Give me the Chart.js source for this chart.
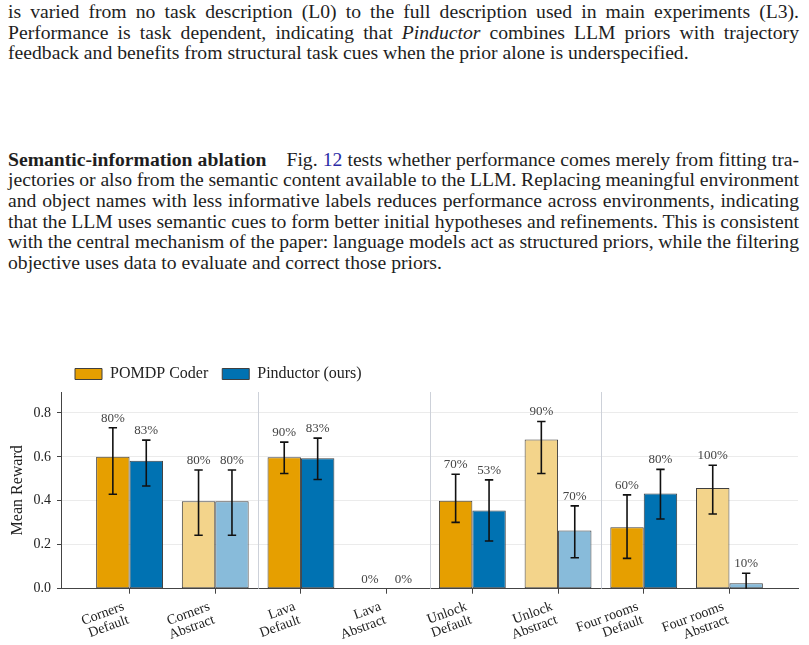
<!DOCTYPE html>
<html><head><meta charset="utf-8">
<script src="https://cdn.jsdelivr.net/npm/chart.js@4.4.1/dist/chart.umd.min.js"></script>
<style>
html,body{margin:0;padding:0;background:#fff;width:809px;height:645px;overflow:hidden;}
.para{position:absolute;left:8px;width:791px;font-family:"Liberation Serif","Times New Roman",serif;color:#1e1e1e;line-height:20.7px;font-size:17.5px;}
.line{white-space:nowrap;height:20.7px;}
.t{white-space:nowrap;}
.ref{color:#2b2ba6;}
.quad{display:inline-block;width:20px;}
#p1{top:1px}
#p2{top:148.6px}
#wrap{position:absolute;left:0;top:352px;width:809px;height:293px;}
</style></head>
<body>
<div class="para" id="p1">
<div class="line j"><span class="t">is varied from no task description (L0) to the full description used in main experiments (L3).</span></div>
<div class="line j"><span class="t">Performance is task dependent, indicating that <i>Pinductor</i> combines LLM priors with trajectory</span></div>
<div class="line last"><span class="t" id="measure">feedback and benefits from structural task cues when the prior alone is underspecified.</span></div>
</div>
<div class="para" id="p2">
<div class="line j"><span class="t"><b>Semantic-information ablation</b><span class="quad"></span>Fig. <span class="ref">12</span> tests whether performance comes merely from fitting tra-</span></div>
<div class="line j"><span class="t">jectories or also from the semantic content available to the LLM. Replacing meaningful environment</span></div>
<div class="line j"><span class="t">and object names with less informative labels reduces performance across environments, indicating</span></div>
<div class="line j"><span class="t">that the LLM uses semantic cues to form better initial hypotheses and refinements. This is consistent</span></div>
<div class="line j"><span class="t">with the central mechanism of the paper: language models act as structured priors, while the filtering</span></div>
<div class="line last"><span class="t">objective uses data to evaluate and correct those priors.</span></div>
</div>
<div id="wrap"><canvas id="c" width="809" height="293"></canvas></div>
<script>
// ---- text layout: fit font so the last line of paragraph 1 matches, then justify lines ----
(function(){
  const m = document.getElementById('measure');
  const target = 681;
  const w = m.getBoundingClientRect().width;
  const fs = 17.5 * target / w;
  document.querySelectorAll('.para').forEach(p => p.style.fontSize = fs + 'px');
  const W = 791;
  document.querySelectorAll('.line.j .t').forEach(s => {
    const nat = s.getBoundingClientRect().width;
    const n = (s.textContent.match(/ /g) || []).length;
    if (n) s.style.wordSpacing = ((W - nat) / n) + 'px';
  });
})();

// ---- data ----
const categories = [
  ['Corners','Default'], ['Corners','Abstract'],
  ['Lava','Default'], ['Lava','Abstract'],
  ['Unlock','Default'], ['Unlock','Abstract'],
  ['Four rooms','Default'], ['Four rooms','Abstract']
];
const seriesNames = ['POMDP Coder', 'Pinductor (ours)'];

const pomdpMean = [0.600, 0.398, 0.598, 0.000, 0.400, 0.679, 0.280, 0.458];
const pomdpLow  = [0.430, 0.243, 0.524, 0.000, 0.302, 0.524, 0.138, 0.340];
const pomdpHigh = [0.732, 0.540, 0.667, 0.000, 0.521, 0.761, 0.427, 0.562];
const pomdpSuccess = [80, 80, 90, 0, 70, 90, 60, 100];

const pindMean = [0.582, 0.398, 0.594, 0.000, 0.356, 0.265, 0.433, 0.025];
const pindLow  = [0.467, 0.243, 0.497, 0.000, 0.217, 0.141, 0.317, -0.020];
const pindHigh = [0.676, 0.540, 0.685, 0.000, 0.495, 0.377, 0.543, 0.070];
const pindSuccess = [83, 80, 83, 0, 53, 70, 80, 10];

const yTicks = [0.0, 0.2, 0.4, 0.6, 0.8];

// ---- styles ----
const F = '"Liberation Serif","Times New Roman",serif';
const baseColors  = ['#E69F00', '#0072B2'];
const lightColors = ['#F3D48B', '#88BBDA'];
const edge = '#3f3f3f';

function colorsFor(k){ return categories.map(c => c[1] === 'Abstract' ? lightColors[k] : baseColors[k]); }

const extras = [
  {low: pomdpLow, high: pomdpHigh, success: pomdpSuccess},
  {low: pindLow, high: pindHigh, success: pindSuccess}
];

const groupLines = {
  id: 'groupLines',
  beforeDatasetsDraw(chart){
    const {ctx, chartArea: a, scales: {x}} = chart;
    ctx.save();
    ctx.strokeStyle = '#cdd1d9';
    ctx.lineWidth = 1;
    for (let i = 1; i < categories.length - 1; i += 2) {
      const px = Math.round(x.getPixelForValue(i + 0.5)) + 0.5;
      ctx.beginPath(); ctx.moveTo(px, a.top); ctx.lineTo(px, a.bottom); ctx.stroke();
    }
    ctx.restore();
  }
};

const errorBars = {
  id: 'errorBars',
  afterDatasetsDraw(chart){
    const {ctx, chartArea: a, scales: {y}} = chart;
    ctx.save();
    ctx.save();
    ctx.beginPath(); ctx.rect(a.left, a.top, a.right - a.left, a.bottom - a.top); ctx.clip();
    ctx.strokeStyle = '#111'; ctx.lineWidth = 1.6;
    chart.data.datasets.forEach((ds, k) => {
      const meta = chart.getDatasetMeta(k);
      meta.data.forEach((el, i) => {
        const lo = extras[k].low[i], hi = extras[k].high[i];
        if (hi === lo) return;
        const yl = y.getPixelForValue(lo), yh = y.getPixelForValue(hi);
        const cx = el.x;
        ctx.beginPath();
        ctx.moveTo(cx, yl); ctx.lineTo(cx, yh);
        ctx.moveTo(cx - 4.2, yh); ctx.lineTo(cx + 4.2, yh);
        ctx.moveTo(cx - 4.2, yl); ctx.lineTo(cx + 4.2, yl);
        ctx.stroke();
      });
    });
    ctx.restore();
    ctx.fillStyle = '#444';
    ctx.font = '13px ' + F;
    ctx.textAlign = 'center';
    ctx.textBaseline = 'alphabetic';
    chart.data.datasets.forEach((ds, k) => {
      const meta = chart.getDatasetMeta(k);
      meta.data.forEach((el, i) => {
        const top = Math.min(el.y, y.getPixelForValue(extras[k].high[i]));
        ctx.fillText(extras[k].success[i] + '%', el.x, top - 6);
      });
    });
    ctx.restore();
  }
};

new Chart(document.getElementById('c'), {
  type: 'bar',
  data: {
    datasets: [
      {label: seriesNames[0], data: pomdpMean.map((v, i) => ({x: i, y: v})),
       backgroundColor: colorsFor(0), borderColor: edge, borderWidth: 1, borderSkipped: false,
       categoryPercentage: 0.78, barPercentage: 1.0},
      {label: seriesNames[1], data: pindMean.map((v, i) => ({x: i, y: v})),
       backgroundColor: colorsFor(1), borderColor: edge, borderWidth: 1, borderSkipped: false,
       categoryPercentage: 0.78, barPercentage: 1.0}
    ]
  },
  options: {
    responsive: false, animation: false, devicePixelRatio: 1,
    layout: {padding: {left: 0, right: 11, top: 0, bottom: 0}},
    plugins: {
      legend: {
        position: 'top', align: 'start', fullSize: false,
        labels: {
          boxWidth: 27, boxHeight: 11, padding: 14, color: '#222',
          font: {family: F, size: 16},
          generateLabels: (chart) => chart.data.datasets.map((d, i) => ({
            text: d.label, fillStyle: baseColors[i], strokeStyle: edge, lineWidth: 1,
            datasetIndex: i, hidden: false, fontColor: '#222'
          }))
        }
      },
      tooltip: {enabled: false}
    },
    scales: {
      x: {
        type: 'linear', min: -0.8, max: 7.8, offset: false,
        afterBuildTicks: ax => { ax.ticks = categories.map((c, i) => ({value: i})); },
        afterFit: ax => { ax.height = 56.3; },
        ticks: {
          callback: v => categories[v], autoSkip: false,
          minRotation: 20, maxRotation: 20, labelOffset: -6, padding: 6,
          color: '#222', font: {family: F, size: 14, lineHeight: 1.0}
        },
        grid: {drawOnChartArea: false, tickLength: 5, tickColor: '#444', offset: false},
        border: {color: '#444', width: 1}
      },
      y: {
        min: 0, max: 0.895,
        afterBuildTicks: ax => { ax.ticks = yTicks.map(v => ({value: v})); },
        afterFit: ax => { ax.width = 61; },
        ticks: {callback: v => v.toFixed(1), padding: 6, color: '#222', font: {family: F, size: 14}},
        grid: {color: '#ebebeb', tickColor: '#444', tickLength: 4},
        border: {color: '#444', width: 1},
        title: {display: true, text: 'Mean Reward', color: '#222', font: {family: F, size: 16}, padding: {top: 8.5, bottom: 0}}
      }
    }
  },
  plugins: [groupLines, errorBars]
});
</script>
</body></html>
